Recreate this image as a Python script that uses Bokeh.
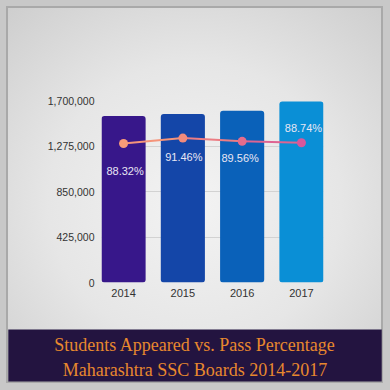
from bokeh.plotting import figure
from bokeh.models import (Range1d, FixedTicker, NumeralTickFormatter, ColumnDataSource, Label)
from bokeh.core.properties import value
from bokeh.embed import file_html
from bokeh.resources import INLINE

# ---- data ----
years = ["2014", "2015", "2016", "2017"]
students_appeared = [1555000, 1573000, 1604000, 1691000]
pass_percentage = [88.32, 91.46, 89.56, 88.74]
y_ticks = [0, 425000, 850000, 1275000, 1700000]
title_lines = ["Students Appeared vs. Pass Percentage",
               "Maharashtra SSC Boards 2014-2017"]

# ---- styles ----
bar_colors = ["#37178a", "#1446a8", "#0a61b9", "#0a8fd6"]
point_colors = ["#f89c78", "#f28b7c", "#e46c8c", "#d8579b"]
segment_colors = ["#f5947a", "#ec7d84", "#de6492"]
label_dy = [28, 19, 17, -15]
label_dx = [1.5, 1, -2, 2]

xs = list(range(len(years)))

p = figure(width=390, height=390, output_backend="svg", toolbar_location=None,
           x_range=Range1d(-0.372, 3.372), y_range=Range1d(0, 1700000),
           min_border_left=101, min_border_right=67, min_border_top=100,
           min_border_bottom=108)
p.extra_y_ranges = {"pct": Range1d(7.5, 113.3)}

p.border_fill_color = None
p.background_fill_color = None
p.outline_line_color = None
p.styles = {
    "background": "radial-gradient(ellipse 75% 72% at 50% 52%, #f3f3f3 0%, #e6e6e6 50%, #cbcbcb 100%)",
    "box-shadow": ("inset 0 6px 0 0 #c8c8c8, inset 6px 0 0 0 #c8c8c8, "
                   "inset -7px 0 0 0 #c8c8c8, inset 0 -7px 0 0 #c8c8c8, "
                   "inset 0 8px 0 0 #a9a9a9, inset 8px 0 0 0 #a9a9a9, "
                   "inset -9px 0 0 0 #a9a9a9, inset 0 -9px 0 0 #a9a9a9"),
}

bars = ColumnDataSource(dict(x=xs, top=students_appeared, color=bar_colors))
p.vbar(x="x", top="top", bottom=0, width=0.744, source=bars, fill_color="color",
       line_color=None, border_radius=3)

seg = ColumnDataSource(dict(x0=xs[:-1], x1=xs[1:], y0=pass_percentage[:-1],
                            y1=pass_percentage[1:], color=segment_colors))
p.segment(x0="x0", y0="y0", x1="x1", y1="y1", source=seg, line_color="color",
          line_width=2, y_range_name="pct")

pts = ColumnDataSource(dict(x=xs, y=pass_percentage, color=point_colors,
                            label=[f"{v:.2f}%" for v in pass_percentage],
                            dx=label_dx, dy=label_dy))
p.scatter(x="x", y="y", source=pts, size=9, fill_color="color", line_color=None,
          y_range_name="pct")
p.text(x="x", y="y", text="label", source=pts, x_offset="dx", y_offset="dy",
       text_align="center", text_baseline="middle", text_font=value("Liberation Sans"),
       text_font_size="11px", text_color="#e8e6f4", y_range_name="pct")

# axes
p.yaxis.ticker = FixedTicker(ticks=y_ticks)
p.yaxis.formatter = NumeralTickFormatter(format="0,0")
p.xaxis.ticker = FixedTicker(ticks=xs)
p.xaxis.major_label_overrides = {i: y for i, y in zip(xs, years)}
for ax in (p.xaxis[0], p.yaxis[0]):
    ax.axis_line_color = None
    ax.major_tick_line_color = None
    ax.minor_tick_line_color = None
    ax.major_tick_out = 0
    ax.major_tick_in = 0
    ax.minor_tick_out = 0
    ax.major_label_text_font = "Liberation Sans"
    ax.major_label_text_color = "#333333"
p.yaxis.major_label_text_font_size = "10.5px"
p.yaxis.major_label_standoff = 7
p.xaxis.major_label_text_font_size = "11px"
p.xaxis.major_label_standoff = 6
p.ygrid.ticker = FixedTicker(ticks=y_ticks)
p.ygrid.grid_line_color = "#d2d2d2"
p.xgrid.visible = False

# title text in the dark band (side panel, so it is not clipped to the frame);
# the first line's padded background box (centred on its anchor) forms the whole band
p.add_layout(Label(x=194.5, y=355, x_units="canvas", y_units="canvas",
                   text=title_lines[0], text_align="center", text_baseline="middle",
                   text_font="Liberation Serif", text_font_size="18px",
                   text_color="#e8882e",
                   padding=dict(left=46, right=46, top=5, bottom=27),
                   background_fill_color="#231440", background_fill_alpha=1.0,
                   level="annotation"), "below")
p.add_layout(Label(x=194.5, y=369.5, x_units="canvas", y_units="canvas",
                   text=title_lines[1], text_align="center", text_baseline="middle",
                   text_font="Liberation Serif", text_font_size="18px",
                   text_color="#e8882e", level="overlay"), "below")

open("out.html", "w").write(file_html(p, INLINE))
